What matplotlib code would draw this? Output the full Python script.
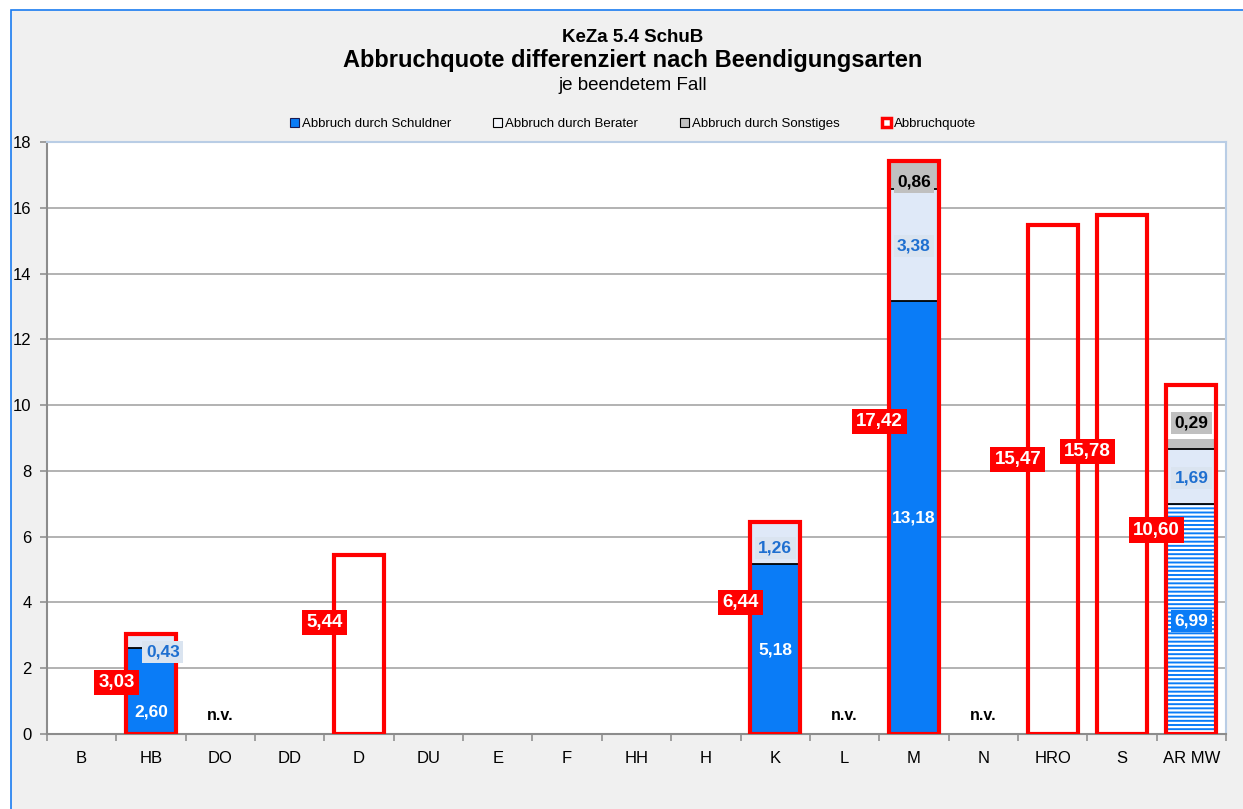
import numpy as np
import matplotlib
matplotlib.use("Agg")
import matplotlib.pyplot as plt
from matplotlib.patches import Rectangle, Patch

categories = ["B", "HB", "DO", "DD", "D", "DU", "E", "F", "HH", "H", "K", "L", "M", "N", "HRO", "S", "AR MW"]
schuldner = [0, 2.60, 0, 0, 0, 0, 0, 0, 0, 0, 5.18, 0, 13.18, 0, 0, 0, 6.99]
berater = [0, 0.43, 0, 0, 0, 0, 0, 0, 0, 0, 1.26, 0, 3.38, 0, 0, 0, 1.69]
sonstiges = [0, 0, 0, 0, 0, 0, 0, 0, 0, 0, 0, 0, 0.86, 0, 0, 0, 0.29]
quote = [0, 3.03, 0, 0, 5.44, 0, 0, 0, 0, 0, 6.44, 0, 17.42, 0, 15.47, 15.78, 10.60]
not_available = ["DO", "L", "N"]

plt.rcParams['font.family'] = ['Liberation Sans', 'DejaVu Sans']
plt.rcParams['hatch.linewidth'] = 1.6

BLUE = "#0a7cf7"
LIGHT = "#dfe9f8"
GRAY = "#c0c0c0"
RED = "#ff0000"

fig = plt.figure(figsize=(12.43, 8.09), dpi=100)
fig.patch.set_facecolor("white")
# chart frame
fig.patches.append(Rectangle((11/1243, -0.1), 1.2, (809-10)/809 + 0.1, transform=fig.transFigure,
                             facecolor="#f0f0f0", edgecolor="#1a7bf0", linewidth=1.2, zorder=-10))

ax = fig.add_axes([47/1243, 75/809, (1226-47)/1243, (734-142)/809])
ax.set_zorder(1)
ax.set_facecolor("white")

x = np.arange(len(categories))
w = 0.72
s = np.array(schuldner); b = np.array(berater); o = np.array(sonstiges); q = np.array(quote)
hatched = np.array([c == "AR MW" for c in categories])

for i in range(len(categories)):
    if s[i] > 0:
        if hatched[i]:
            ax.bar(x[i], s[i], w, color=BLUE, edgecolor="white", hatch="----", linewidth=0, zorder=2)
        else:
            ax.bar(x[i], s[i], w, color=BLUE, linewidth=0, zorder=2)
        ax.plot([x[i]-w/2, x[i]+w/2], [s[i], s[i]], color="black", lw=1.3, zorder=3)
    if b[i] > 0:
        ax.bar(x[i], b[i], w, bottom=s[i], color=LIGHT, linewidth=0, zorder=2)
        if o[i] > 0:
            ax.plot([x[i]-w/2, x[i]+w/2], [s[i]+b[i]]*2, color="black", lw=1.3, zorder=3)
    if o[i] > 0:
        ax.bar(x[i], o[i], w, bottom=s[i]+b[i], color=GRAY, linewidth=0, zorder=2)

# Abbruchquote outline bars
for i in range(len(categories)):
    if q[i] > 0:
        ax.bar(x[i], q[i], w, facecolor="none", edgecolor=RED, linewidth=3, zorder=4)

lbl = dict(fontsize=12.5, fontweight="bold", ha="center", va="center", zorder=6)
pad = dict(boxstyle="square,pad=0.2", linewidth=0)

# Schuldner labels
schuldner_shift = [0, -0.63, 0, 0, 0, 0, 0, 0, 0, 0, -0.04, 0, -0.02, 0, 0, 0, -0.07]
for i in range(len(categories)):
    if s[i] > 0:
        bbox = dict(pad, facecolor=BLUE) if hatched[i] else None
        ax.text(x[i], s[i]/2 + schuldner_shift[i], f"{s[i]:.2f}".replace(".", ","), color="white", bbox=bbox, **lbl)

berater_shift = [0, -0.33, 0, 0, 0, 0, 0, 0, 0, 0, -0.16, 0, -0.04, 0, 0, 0, -0.06]
berater_dx = [0, 0.17, 0, 0, 0, 0, 0, 0, 0, 0, 0, 0, 0, 0, 0, 0, 0]
for i in range(len(categories)):
    if b[i] > 0:
        ax.text(x[i] + berater_dx[i], s[i] + b[i]/2 + berater_shift[i], f"{b[i]:.2f}".replace(".", ","),
                color="#1e6fd0", bbox=dict(pad, facecolor="#dae4f0"), **lbl)

sonst_shift = [0, 0, 0, 0, 0, 0, 0, 0, 0, 0, 0, 0, -0.22, 0, 0, 0, 0.62]
for i in range(len(categories)):
    if o[i] > 0:
        ax.text(x[i], s[i] + b[i] + o[i]/2 + sonst_shift[i], f"{o[i]:.2f}".replace(".", ","),
                color="black", bbox=dict(pad, facecolor=GRAY), **lbl)

quote_shift = [0, 0.06, 0, 0, 0.68, 0, 0, 0, 0, 0, 0.78, 0, 0.8, 0, 0.6, 0.7, 0.9]
for i in range(len(categories)):
    if q[i] > 0:
        ax.text(x[i] - 0.5, q[i]/2 + quote_shift[i], f"{q[i]:.2f}".replace(".", ","),
                color="white", bbox=dict(boxstyle="square,pad=0.22", linewidth=0, facecolor=RED),
                fontsize=13.5, fontweight="bold", ha="center", va="center", zorder=7)

for c in not_available:
    i = categories.index(c)
    ax.text(x[i], 0.55, "n.v.", fontsize=11.5, fontweight="bold", ha="center", va="center", color="black")

ax.set_xlim(-0.5, len(categories) - 0.5)
ax.set_ylim(0, 18)
ax.set_yticks(np.arange(0, 19, 2))
ax.set_yticklabels([str(v) for v in range(0, 19, 2)], fontsize=12)
ax.set_xticks(x)
ax.set_xticklabels(categories, fontsize=12)
ax.set_xticks(np.arange(-0.5, len(categories), 1), minor=True)
ax.tick_params(axis="x", which="major", length=0, pad=12)
ax.tick_params(axis="x", which="minor", length=5, color="#909090", width=1.2)
ax.tick_params(axis="y", length=5, color="#909090", width=1.2, pad=6)
ax.grid(axis="y", color="#a6a6a6", linewidth=1.2, zorder=1)
ax.set_axisbelow(True)
for sp in ["top", "right"]:
    ax.spines[sp].set_color("#b9cde5")
    ax.spines[sp].set_linewidth(1.5)
for sp in ["left", "bottom"]:
    ax.spines[sp].set_color("#8c8c8c")
    ax.spines[sp].set_linewidth(1.5)

# titles
cx = 633/1243
fig.text(cx, 1 - 37/809, "KeZa 5.4 SchuB", ha="center", va="center", fontsize=13.5, fontweight="bold")
fig.text(cx, 1 - 60/809, "Abbruchquote differenziert nach Beendigungsarten", ha="center", va="center",
         fontsize=17, fontweight="bold")
fig.text(cx, 1 - 86/809, "je beendetem Fall", ha="center", va="center", fontsize=13.5)

handles = [
    Patch(facecolor=BLUE, edgecolor="#1a1a50", linewidth=0.8),
    Patch(facecolor="#f4f7fc", edgecolor="black", linewidth=0.8),
    Patch(facecolor=GRAY, edgecolor="black", linewidth=0.8),
    Patch(facecolor="white", edgecolor=RED, linewidth=2.5),
]
labels = ["Abbruch durch Schuldner", "Abbruch durch Berater", "Abbruch durch Sonstiges", "Abbruchquote"]
fig.legend(handles, labels, loc="center", bbox_to_anchor=(cx, 1 - 124/809), ncol=4, frameon=False,
           fontsize=9.5, handlelength=0.7, handleheight=0.7, handletextpad=0.2, columnspacing=3.2)

fig.savefig("out.png", dpi=100, facecolor=fig.get_facecolor())
